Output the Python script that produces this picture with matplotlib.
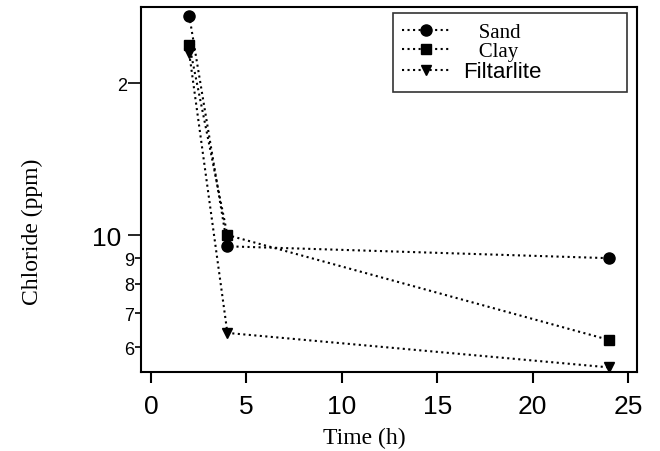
import matplotlib
matplotlib.use("Agg")
import matplotlib.pyplot as plt
from matplotlib.ticker import FixedLocator, FixedFormatter

# data
time_h = [2, 4, 24]
sand = [27.2, 9.5, 9.0]
clay = [23.8, 10.0, 6.2]
filtarlite = [22.9, 6.4, 5.47]

x_ticks = [0, 5, 10, 15, 20, 25]
y_major = [20, 10]
y_major_labels = ["2", "10"]
y_minor = [9, 8, 7, 6]
y_minor_labels = ["9", "8", "7", "6"]

fig = plt.figure(figsize=(6.6, 4.52), dpi=100)
ax = fig.add_axes([0.2136, 0.1748, 0.7515, 0.8075])

style = dict(color="black", linestyle=":", linewidth=1.5)
ax.plot(time_h, sand, marker="o", markersize=8, label="   Sand", **style)
ax.plot(time_h, clay, marker="s", markersize=7, label="   Clay", **style)
ax.plot(time_h, filtarlite, marker="v", markersize=7.5, label="Filtarlite", **style)

ax.set_yscale("log")
ax.set_xlim(-0.53, 25.47)
ax.set_ylim(5.356, 28.29)

ax.xaxis.set_major_locator(FixedLocator(x_ticks))
ax.yaxis.set_major_locator(FixedLocator(y_major))
ax.yaxis.set_major_formatter(FixedFormatter(y_major_labels))
ax.yaxis.set_minor_locator(FixedLocator(y_minor))
ax.yaxis.set_minor_formatter(FixedFormatter(y_minor_labels))

ax.tick_params(axis="x", direction="out", length=8, width=1.5, labelsize=19,
               pad=8, labelfontfamily="Liberation Sans")
ax.tick_params(axis="y", which="major", direction="out", length=9.5, width=1.2,
               labelsize=19, pad=5, labelfontfamily="Liberation Sans")
ax.tick_params(axis="y", which="minor", direction="out", length=4.5, width=1.2,
               labelsize=13, pad=0.5, labelfontfamily="Liberation Sans")

# the "2" tick is shorter and its label smaller, like the small ones
t20 = ax.yaxis.get_major_ticks()[0]
t20.tick1line.set_markersize(6)
t20.label1.set_fontsize(13)
t20.set_pad(0.5)

for sp in ax.spines.values():
    sp.set_linewidth(1.5)

ax.set_xlabel("Time (h)", fontsize=17, family="Liberation Serif")
ax.xaxis.set_label_coords(0.45, -0.151)
ax.set_ylabel("Chloride (ppm)", fontsize=17, family="Liberation Serif")
ax.yaxis.set_label_coords(-0.198, 0.386)

leg = ax.legend(loc="upper left", bbox_to_anchor=(0.508, 0.0, 0.472, 0.984),
                mode="expand", frameon=True, fancybox=False, edgecolor="black",
                handlelength=2.3, handletextpad=0.6, borderpad=0.45,
                labelspacing=0.0, fontsize=15, borderaxespad=0.0)
leg.get_frame().set_linewidth(1.2)
texts = leg.get_texts()
texts[0].set_family("Liberation Serif")
texts[1].set_family("Liberation Serif")
texts[2].set_family("Liberation Sans")
texts[2].set_fontsize(16)

fig.savefig("out.png", dpi=100)
